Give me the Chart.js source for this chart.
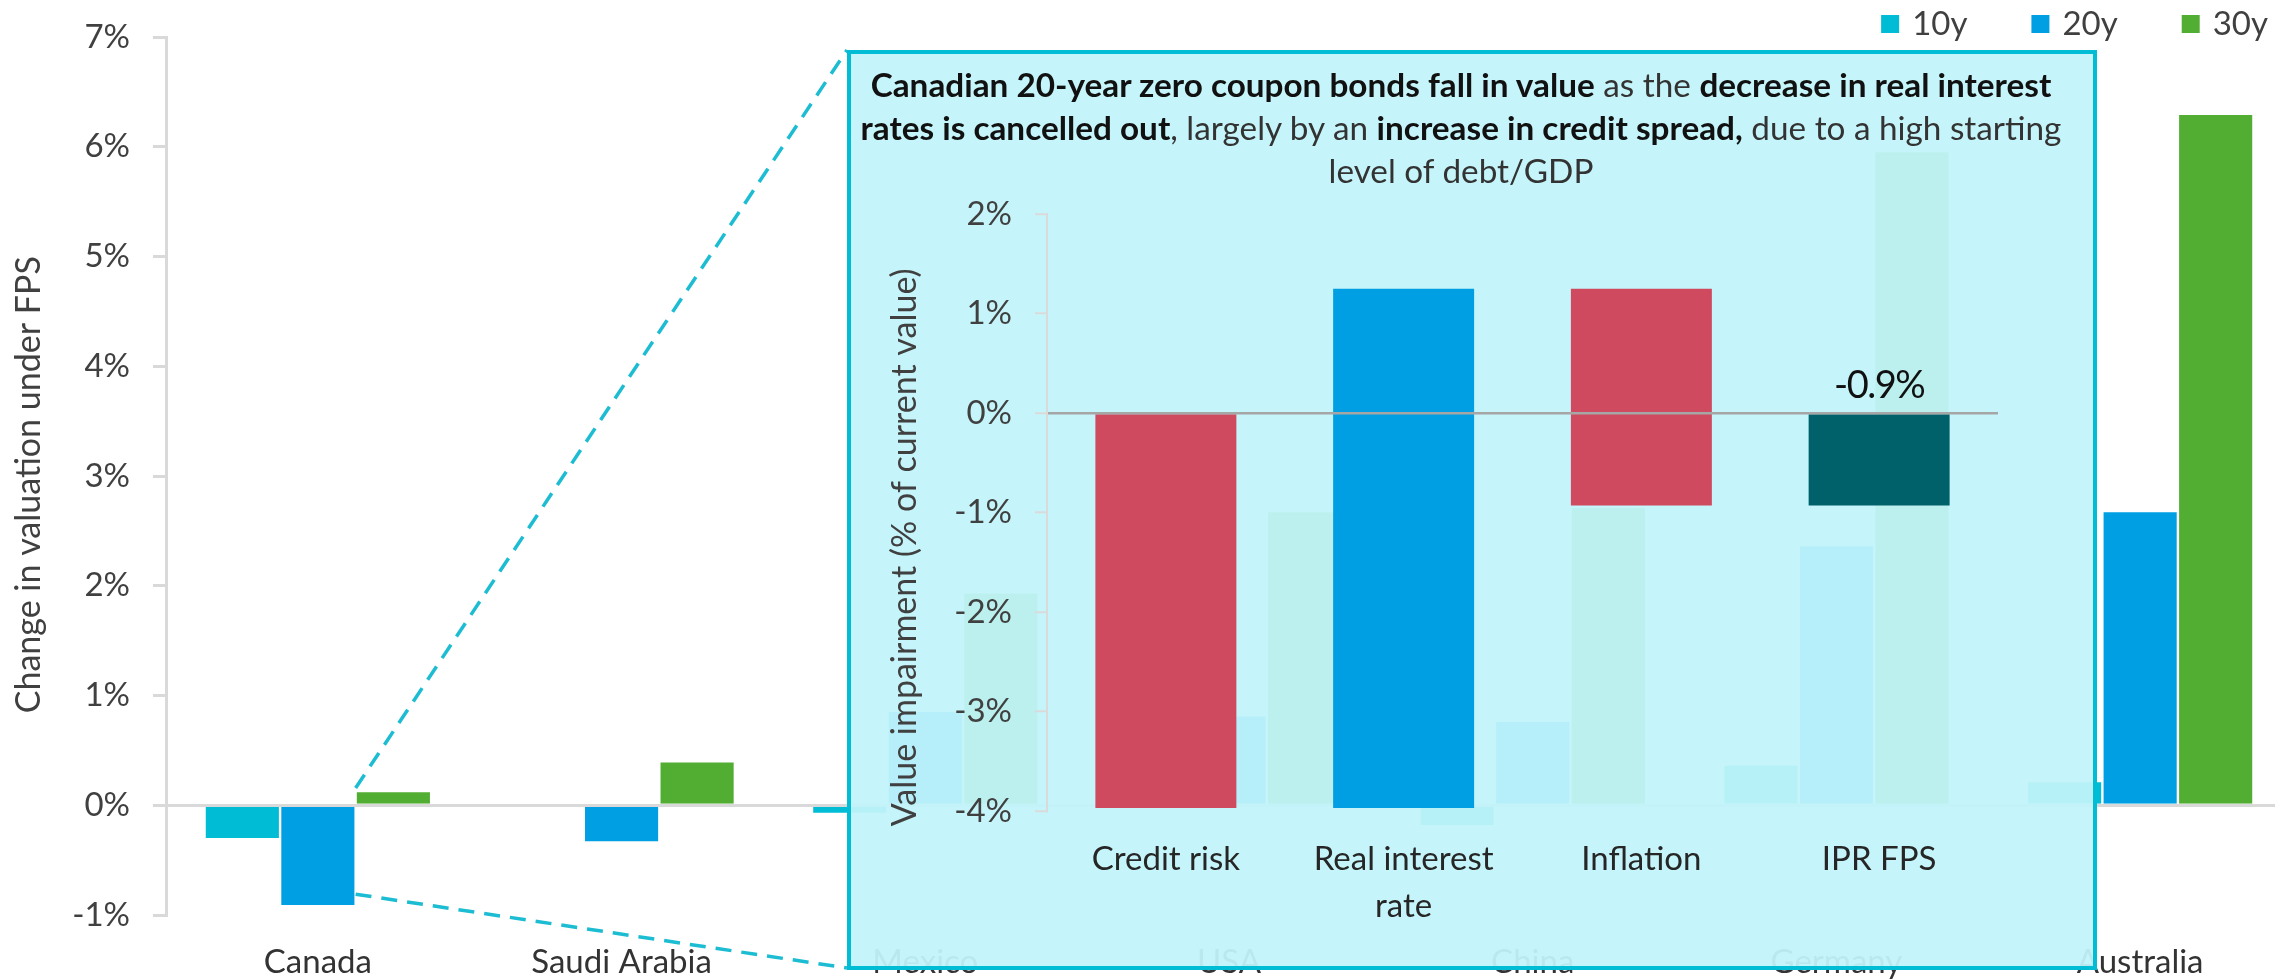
<!DOCTYPE html>
<html>
<head>
<meta charset="utf-8">
<script src="https://cdn.jsdelivr.net/npm/chart.js@4.4.1/dist/chart.umd.min.js"></script>
<style>
  html, body { margin: 0; padding: 0; overflow: hidden; background: #ffffff; }
  body { width: 2275px; height: 980px; position: relative; }
  #main { position: absolute; left: 0; top: 0; }
  #panel { position: absolute; left: 847px; top: 50px; width: 1250px; height: 920px; box-sizing: border-box;
           border: 4px solid #00BCD4; background: rgba(193, 244, 250, 0.94); }
  #note { position: absolute; left: 851px; top: 63px; width: 1220px; text-align: center;
          font-family: Lato, "Open Sans", sans-serif; font-size: 33.3px; line-height: 43px;
          color: #333333; white-space: nowrap; }
  #note b { color: #111111; font-weight: 700; }
  #inset { position: absolute; left: 851px; top: 150px; }
</style>
</head>
<body>
<canvas id="main" width="2292" height="980"></canvas>
<div id="panel"></div>
<div id="note"><b>Canadian 20-year zero coupon bonds fall in value</b> as the <b>decrease in real interest</b><br><b>rates is cancelled out</b>, largely by an <b>increase in credit spread,</b> due to a high starting<br>level of debt/GDP</div>
<canvas id="inset" width="1147" height="810"></canvas>
<script>
// ---------- Data ----------
const categories = ['Canada', 'Saudi Arabia', 'Mexico', 'USA', 'China', 'Germany', 'Australia'];
const seriesNames = ['10y', '20y', '30y'];
const tenYear    = [-0.31, 0.00, -0.08, -0.02, -0.19, 0.37, 0.22];
const twentyYear = [-0.92, -0.34, 0.86, 0.82, 0.77, 2.37, 2.68];
const thirtyYear = [0.13, 0.40, 1.94, 2.68, 2.72, 5.96, 6.30];
const mainTickRange = [-1, 7];

const insetCategories = [['Credit risk'], ['Real interest', 'rate'], ['Inflation'], ['IPR FPS']];
const insetSteps = [-3.97, 5.22, -2.18];   // credit risk, real interest rate, inflation
const insetTotal = -0.93;                   // IPR FPS
const insetTickRange = [-4, 2];

// ---------- Styles ----------
const FONT = 'Lato, "Open Sans", sans-serif';
const seriesColors = ['#00BCD4', '#009FE3', '#52AE32'];
const pct = v => v + '%';

// floating bars for the waterfall, built from the step values
const insetBars = [];
let running = 0;
insetSteps.forEach(s => { insetBars.push([running, running + s]); running += s; });
insetBars.push([0, insetTotal]);
const insetColors = insetSteps.map(s => s < 0 ? '#D04A5F' : '#009FE3').concat(['#00616A']);

// ---------- Plugins ----------
const legendPlugin = {
  id: 'customLegend',
  afterDraw(chart) {
    const ctx = chart.ctx;
    ctx.save();
    ctx.font = '33px ' + FONT;
    ctx.textBaseline = 'middle';
    ctx.textAlign = 'left';
    let right = 2268;
    const items = chart.data.datasets.map(d => ({ text: d.label, color: d.backgroundColor }));
    const pos = [];
    for (let i = items.length - 1; i >= 0; i--) {
      const w = ctx.measureText(items[i].text).width;
      const textX = right - w;
      const boxX = textX - 13 - 18;
      pos[i] = { textX, boxX };
      right = boxX - 64;
    }
    items.forEach((it, i) => {
      ctx.fillStyle = it.color;
      ctx.fillRect(pos[i].boxX, 15, 18, 18);
      ctx.fillStyle = '#404040';
      ctx.fillText(it.text, pos[i].textX, 24);
    });
    ctx.restore();
  }
};

const connectorPlugin = {
  id: 'connector',
  afterDatasetsDraw(chart) {
    const ctx = chart.ctx;
    const bar30 = chart.getDatasetMeta(2).data[0];
    const bar20 = chart.getDatasetMeta(1).data[0];
    ctx.save();
    ctx.strokeStyle = '#1CBCD2';
    ctx.lineWidth = 3.5;
    ctx.setLineDash([16, 10]);
    ctx.beginPath();
    ctx.moveTo(bar30.x - bar30.width / 2, bar30.y - 3);
    ctx.lineTo(847, 50);
    ctx.stroke();
    ctx.beginPath();
    ctx.moveTo(bar20.x + bar20.width / 2, bar20.y - 12);
    ctx.lineTo(847, 968);
    ctx.stroke();
    ctx.restore();
  }
};

const totalLabelPlugin = {
  id: 'totalLabel',
  afterDatasetsDraw(chart) {
    const ctx = chart.ctx;
    const meta = chart.getDatasetMeta(0);
    const idx = insetBars.length - 1;
    const el = meta.data[idx];
    const y0 = chart.scales.y.getPixelForValue(0);
    ctx.save();
    ctx.font = '38px ' + FONT;
    if ('letterSpacing' in ctx) ctx.letterSpacing = '-1.5px';
    ctx.fillStyle = '#111111';
    ctx.textAlign = 'center';
    ctx.textBaseline = 'middle';
    ctx.fillText(insetTotal.toFixed(1) + '%', el.x, y0 - 27);
    ctx.restore();
  }
};

// ---------- Main chart ----------
new Chart(document.getElementById('main'), {
  type: 'bar',
  data: {
    labels: categories,
    datasets: [
      { label: seriesNames[0], data: tenYear, backgroundColor: seriesColors[0] },
      { label: seriesNames[1], data: twentyYear, backgroundColor: seriesColors[1] },
      { label: seriesNames[2], data: thirtyYear, backgroundColor: seriesColors[2] }
    ]
  },
  options: {
    responsive: false,
    animation: false,
    layout: { padding: { top: 37, right: 0, bottom: 0, left: 0 } },
    datasets: { bar: { categoryPercentage: 0.746, barPercentage: 1, borderColor: '#ffffff', borderWidth: 1.2 } },
    plugins: { legend: { display: false }, tooltip: { enabled: false } },
    scales: {
      x: {
        grid: { display: false, drawTicks: false },
        border: { display: false },
        ticks: { font: { family: FONT, size: 33 }, color: '#333333', padding: 28 },
        afterFit: s => { s.height = 65; }
      },
      y: {
        min: mainTickRange[0], max: mainTickRange[1],
        afterFit: s => { s.width = 166; s.paddingTop = 0; s.paddingBottom = 0; },
        ticks: { stepSize: 1, callback: pct, font: { family: FONT, size: 33 }, color: '#404040', padding: 23 },
        grid: {
          z: 1,
          color: c => (c.tick && c.tick.value === 0) ? '#D9D9D9' : 'rgba(0,0,0,0)',
          lineWidth: 3, tickColor: '#D9D9D9', tickWidth: 3, tickLength: 13, drawTicks: true
        },
        border: { color: '#D9D9D9', width: 3, z: 1 },
        title: {
          display: true, text: 'Change in valuation under FPS\u00a0\u00a0',
          font: { family: FONT, size: 34 }, color: '#404040', padding: { top: 9, bottom: 0 }
        }
      }
    }
  },
  plugins: [legendPlugin, connectorPlugin]
});

// ---------- Inset chart ----------
new Chart(document.getElementById('inset'), {
  type: 'bar',
  data: {
    labels: insetCategories,
    datasets: [{ data: insetBars, backgroundColor: insetColors, borderWidth: 0, borderSkipped: false }]
  },
  options: {
    responsive: false,
    animation: false,
    layout: { padding: { top: 64, right: 0, bottom: 0, left: 0 } },
    datasets: { bar: { categoryPercentage: 0.593, barPercentage: 1 } },
    plugins: { legend: { display: false }, tooltip: { enabled: false } },
    scales: {
      x: {
        grid: { display: false, drawTicks: false },
        border: { display: false },
        ticks: { font: { family: FONT, size: 33, lineHeight: 1.42 }, color: '#262626', padding: 25 },
        afterFit: s => { s.height = 149; }
      },
      y: {
        min: insetTickRange[0], max: insetTickRange[1],
        afterFit: s => { s.width = 196; s.paddingTop = 0; s.paddingBottom = 0; },
        ticks: { stepSize: 1, callback: pct, font: { family: FONT, size: 33 }, color: '#404040', padding: 23 },
        grid: {
          z: 1,
          color: c => (c.tick && c.tick.value === 0) ? '#A6A6A6' : 'rgba(0,0,0,0)',
          lineWidth: 2.5, tickColor: '#DADADA', tickWidth: 2, tickLength: 12, drawTicks: true
        },
        border: { color: '#DADADA', width: 2, z: 1 },
        title: {
          display: true,
          text: 'Value impairment (% of current value)' + '\u00a0'.repeat(8),
          font: { family: FONT, size: 34 }, color: '#404040', padding: { top: 34, bottom: 0 }
        }
      }
    }
  },
  plugins: [totalLabelPlugin]
});
</script>
</body>
</html>
